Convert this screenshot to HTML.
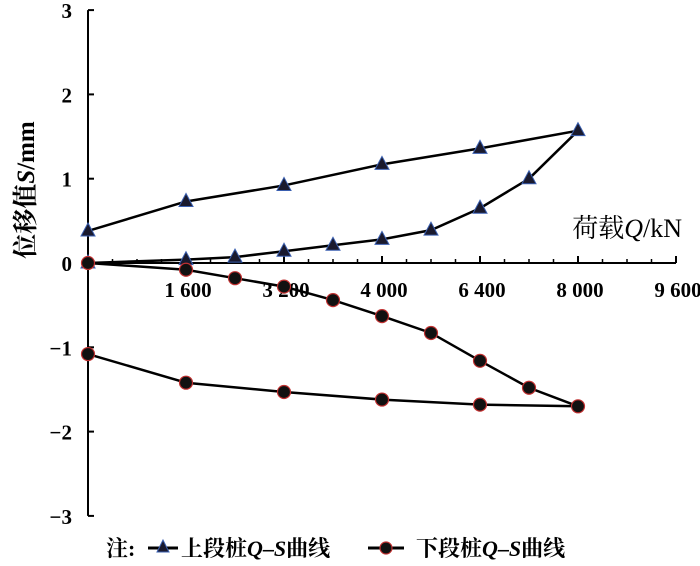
<!DOCTYPE html>
<html><head><meta charset="utf-8"><style>
body{margin:0;background:#fff}
svg{display:block;font-family:"Liberation Serif","Noto Serif CJK SC",serif}
</style></head><body>
<svg width="700" height="566" viewBox="0 0 700 566">
<g id="axes"></g>
<g id="series"></g>
<text x="0" y="0" transform="translate(34,190) rotate(-90)" text-anchor="middle" font-size="25" font-weight="bold">位移值<tspan font-style="italic">S</tspan>/mm</text>
<text x="682" y="237" text-anchor="end" font-size="26">荷载<tspan font-style="italic">Q</tspan>/kN</text>
<g font-size="22" font-weight="bold">
<text x="106" y="556">注:</text>
<line x1="148" y1="548" x2="178" y2="548" stroke="#000" stroke-width="3"/>
<polygon points="163,540 157,552 169,552" fill="#1a1a2e" stroke="#3a5fb0" stroke-width="1"/>
<text x="181" y="556">上段桩<tspan font-style="italic">Q</tspan>–<tspan font-style="italic">S</tspan>曲线</text>
<line x1="368" y1="548" x2="404" y2="548" stroke="#000" stroke-width="3"/>
<circle cx="386" cy="548" r="6" fill="#111" stroke="#c03030" stroke-width="1.2"/>
<text x="416" y="556">下段桩<tspan font-style="italic">Q</tspan>–<tspan font-style="italic">S</tspan>曲线</text>
</g>
</svg>
<script>
const upperQ=[0,1600,2400,3200,4000,4800,5600,6400,7200,8000,6400,4800,3200,1600,0];
const upperS=[0,0.04,0.07,0.14,0.21,0.28,0.39,0.65,1.0,1.57,1.36,1.17,0.92,0.73,0.38];
const lowerQ=[0,1600,2400,3200,4000,4800,5600,6400,7200,8000,6400,4800,3200,1600,0];
const lowerS=[0,-0.08,-0.18,-0.28,-0.44,-0.63,-0.83,-1.16,-1.48,-1.70,-1.68,-1.62,-1.53,-1.42,-1.08];
const xTickVals=[1600,3200,4800,6400,8000,9600];
const xTickLabels=["1 600","3 200","4 000","6 400","8 000","9 600"];
const yTickVals=[-3,-2,-1,0,1,2,3];
</script>
<script>
const NS="http://www.w3.org/2000/svg";
const X=q=>88+q*(490/8000);
const Y=s=>263-s*84.3;
function mk(t,a,p){const e=document.createElementNS(NS,t);for(const k in a)e.setAttribute(k,a[k]);p.appendChild(e);return e;}
const ax=document.getElementById('axes');
const yl=mk('line',{x1:X(0),y1:Y(3),x2:X(0),y2:Y(-3),stroke:'#000','stroke-width':2},ax);


const xl=mk('line',{x1:X(0),y1:Y(0),x2:X(9600),y2:Y(0),stroke:'#000','stroke-width':2},ax);


yTickVals.forEach(v=>{
  mk('line',{x1:X(0),y1:Y(v),x2:X(0)+6,y2:Y(v),stroke:'#000','stroke-width':2},ax);
  const t=mk('text',{x:72,y:Y(v)+8,'text-anchor':'end','font-size':21,'font-weight':'bold'},ax);
  t.textContent=v<0?'−'+(-v):String(v);
  
  
});
for(let q=400;q<=9600;q+=400){
  const major=q%1600===0;
  mk('line',{x1:X(q),y1:Y(0),x2:X(q),y2:Y(0)-(major?7:4),stroke:'#000','stroke-width':major?2:1.5},ax);
}
xTickVals.forEach((v,i)=>{
  const t=mk('text',{x:X(v)+2,y:Y(0)+34,'text-anchor':'middle','font-size':21,'font-weight':'bold'},ax);
  t.textContent=xTickLabels[i];
  
  
});
const sg=document.getElementById('series');
function draw(Q,S,kind){
  const pts=Q.map((q,i)=>X(q)+','+Y(S[i])).join(' ');
  const pl=mk('polyline',{points:pts,fill:'none',stroke:'#000','stroke-width':2.5},sg);
  
  
  Q.forEach((q,i)=>{
    const x=X(q),y=Y(S[i]);
    let m;
    if(kind==='upper') m=mk('polygon',{points:`${x},${y-8} ${x-7},${y+5} ${x+7},${y+5}`,fill:'#1a1a2e',stroke:'#3a5fb0','stroke-width':1},sg);
    else m=mk('circle',{cx:x,cy:y,r:6.5,fill:'#111',stroke:'#c03030','stroke-width':1.2},sg);
    
    
  });
}
draw(upperQ,upperS,'upper');
draw(lowerQ,lowerS,'lower');
</script>
</body></html>
